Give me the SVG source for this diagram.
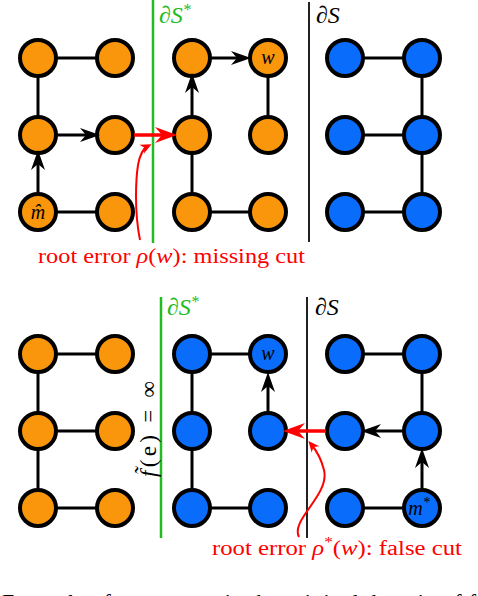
<svg xmlns="http://www.w3.org/2000/svg" width="478" height="596" viewBox="0 0 478 596">
<style>
.o{fill:#F9960B;stroke:#000;stroke-width:4}
.b{fill:#0A6CFA;stroke:#000;stroke-width:4}
.e{stroke:#000;stroke-width:3;fill:none}
.a{stroke:#000;stroke-width:3;fill:none;marker-end:url(#ah)}
.r{stroke:#F00;stroke-width:3.5;fill:none;marker-end:url(#rh)}
.rc{stroke:#F00;stroke-width:2;fill:none;marker-end:url(#sh)}
.cut{stroke:#22BB22;stroke-width:2.5}
.cutk{stroke:#222;stroke-width:2}
.lbl{font-family:"Liberation Serif",serif;font-style:italic;font-size:20px;text-anchor:middle}
.part{font-family:"Liberation Serif",serif;font-style:italic;font-size:24px}
.err{font-family:"Liberation Serif",serif;font-size:20px;fill:#F00}
</style>
<defs>
<marker id="ah" viewBox="-21 -8 22 16" refX="-10" refY="0" markerWidth="22" markerHeight="16" markerUnits="userSpaceOnUse" orient="auto">
<path d="M0,0 L-20,-7 L-14,0 L-20,7 Z" fill="#000"/>
</marker>
<marker id="rh" viewBox="-23 -9 24 18" refX="-10" refY="0" markerWidth="24" markerHeight="18" markerUnits="userSpaceOnUse" orient="auto">
<path d="M0,0 L-22,-8 L-15,0 L-22,8 Z" fill="#F00"/>
</marker>
<marker id="sh" viewBox="-12 -6 13 12" refX="-4" refY="0" markerWidth="13" markerHeight="12" markerUnits="userSpaceOnUse" orient="auto">
<path d="M0,0 L-11,-5 L-8,0 L-11,5 Z" fill="#F00"/>
</marker>
</defs>

<g id="cuts">
<line class="cut" x1="153" y1="0" x2="153" y2="243"/>
<line class="cutk" x1="309" y1="2" x2="309" y2="242"/>
<text class="part" x="159" y="23" fill="#22BB22">∂S<tspan font-size="16" dy="-8">*</tspan></text>
<text class="part" x="316" y="23" fill="#000">∂S</text>
<line class="cut" x1="161" y1="297" x2="161" y2="538"/>
<line class="cutk" x1="307" y1="297" x2="307" y2="538"/>
<text class="part" x="167" y="315" fill="#22BB22">∂S<tspan font-size="16" dy="-8">*</tspan></text>
<text class="part" x="315" y="315" fill="#000">∂S</text>
</g>

<g id="top-nodes">
<g id="t00"><circle class="o" cx="38" cy="58" r="18"/></g>
<g id="t10"><circle class="o" cx="115" cy="58" r="18"/></g>
<g id="t20"><circle class="o" cx="192" cy="58" r="18"/></g>
<g id="t30"><circle class="o" cx="268" cy="58" r="18"/><text class="lbl" x="268" y="64">w</text></g>
<g id="t40"><circle class="b" cx="345" cy="58" r="18"/></g>
<g id="t50"><circle class="b" cx="422" cy="58" r="18"/></g>
<g id="t01"><circle class="o" cx="38" cy="135" r="18"/></g>
<g id="t11"><circle class="o" cx="115" cy="135" r="18"/></g>
<g id="t21"><circle class="o" cx="192" cy="135" r="18"/></g>
<g id="t31"><circle class="o" cx="268" cy="135" r="18"/></g>
<g id="t41"><circle class="b" cx="345" cy="135" r="18"/></g>
<g id="t51"><circle class="b" cx="422" cy="135" r="18"/></g>
<g id="t02"><circle class="o" cx="38" cy="212" r="18"/><text class="lbl" x="38" y="219">m̂</text></g>
<g id="t12"><circle class="o" cx="115" cy="212" r="18"/></g>
<g id="t22"><circle class="o" cx="192" cy="212" r="18"/></g>
<g id="t32"><circle class="o" cx="268" cy="212" r="18"/></g>
<g id="t42"><circle class="b" cx="345" cy="212" r="18"/></g>
<g id="t52"><circle class="b" cx="422" cy="212" r="18"/></g>
</g>

<g id="bottom-nodes">
<g id="b00"><circle class="o" cx="38" cy="354" r="18"/></g>
<g id="b10"><circle class="o" cx="115" cy="354" r="18"/></g>
<g id="b20"><circle class="b" cx="192" cy="354" r="18"/></g>
<g id="b30"><circle class="b" cx="268" cy="354" r="18"/><text class="lbl" x="268" y="360">w</text></g>
<g id="b40"><circle class="b" cx="345" cy="354" r="18"/></g>
<g id="b50"><circle class="b" cx="422" cy="354" r="18"/></g>
<g id="b01"><circle class="o" cx="38" cy="431" r="18"/></g>
<g id="b11"><circle class="o" cx="115" cy="431" r="18"/></g>
<g id="b21"><circle class="b" cx="192" cy="431" r="18"/></g>
<g id="b31"><circle class="b" cx="268" cy="431" r="18"/></g>
<g id="b41"><circle class="b" cx="345" cy="431" r="18"/></g>
<g id="b51"><circle class="b" cx="422" cy="431" r="18"/></g>
<g id="b02"><circle class="o" cx="38" cy="508" r="18"/></g>
<g id="b12"><circle class="o" cx="115" cy="508" r="18"/></g>
<g id="b22"><circle class="b" cx="192" cy="508" r="18"/></g>
<g id="b32"><circle class="b" cx="268" cy="508" r="18"/></g>
<g id="b42"><circle class="b" cx="345" cy="508" r="18"/></g>
<g id="b52"><circle class="b" cx="422" cy="508" r="18"/><text class="lbl" x="419" y="515">m<tspan font-size="14" dy="-8">*</tspan></text></g>
</g>

<g id="connectors">
<line class="e" x1="57" y1="58" x2="96" y2="58"/>
<line class="e" x1="38" y1="77" x2="38" y2="116"/>
<line class="e" x1="57" y1="212" x2="96" y2="212"/>
<line class="e" x1="268" y1="77" x2="268" y2="116"/>
<line class="e" x1="192" y1="154" x2="192" y2="193"/>
<line class="e" x1="211" y1="212" x2="249" y2="212"/>
<line class="e" x1="364" y1="58" x2="403" y2="58"/>
<line class="e" x1="422" y1="77" x2="422" y2="116"/>
<line class="e" x1="364" y1="135" x2="403" y2="135"/>
<line class="e" x1="422" y1="154" x2="422" y2="193"/>
<line class="e" x1="364" y1="212" x2="403" y2="212"/>
<line class="a" x1="57" y1="135" x2="90" y2="135"/>
<line class="a" x1="38" y1="193" x2="38" y2="160"/>
<line class="a" x1="192" y1="116" x2="192" y2="83"/>
<line class="a" x1="211" y1="58" x2="241" y2="58"/>
<line class="r" x1="134" y1="135" x2="167" y2="135"/>
<path class="rc" d="M140,240 C134,210 136,178 138,165 C140,154 144,148 148,146"/>
<line class="e" x1="57" y1="354" x2="96" y2="354"/>
<line class="e" x1="38" y1="373" x2="38" y2="412"/>
<line class="e" x1="57" y1="431" x2="96" y2="431"/>
<line class="e" x1="38" y1="450" x2="38" y2="489"/>
<line class="e" x1="57" y1="508" x2="96" y2="508"/>
<line class="e" x1="211" y1="354" x2="249" y2="354"/>
<line class="e" x1="192" y1="373" x2="192" y2="412"/>
<line class="e" x1="192" y1="450" x2="192" y2="489"/>
<line class="e" x1="211" y1="508" x2="249" y2="508"/>
<line class="e" x1="364" y1="354" x2="403" y2="354"/>
<line class="e" x1="422" y1="373" x2="422" y2="412"/>
<line class="e" x1="364" y1="508" x2="403" y2="508"/>
<line class="a" x1="268" y1="412" x2="268" y2="382"/>
<line class="a" x1="422" y1="489" x2="422" y2="458"/>
<line class="a" x1="403" y1="431" x2="371" y2="431"/>
<line class="r" x1="326" y1="431" x2="293" y2="431"/>
<path class="rc" d="M299,537 C290,520 330,495 324,470 C321,458 316,450 311,444"/>
</g>

<g id="labels">
<text class="err" x="38" y="263" textLength="267" lengthAdjust="spacingAndGlyphs">root error <tspan font-style="italic">ρ</tspan>(<tspan font-style="italic">w</tspan>): missing cut</text>
<text class="err" x="212" y="555" textLength="250" lengthAdjust="spacingAndGlyphs">root error <tspan font-style="italic">ρ</tspan><tspan font-size="14" dy="-8">*</tspan><tspan dy="8">(</tspan><tspan font-style="italic">w</tspan>): false cut</text>
<text font-family="Liberation Serif, serif" font-size="23" x="0" y="0" transform="translate(156,429) rotate(-90)" text-anchor="middle" textLength="96" lengthAdjust="spacing"><tspan font-style="italic">f̃</tspan>(e) = ∞</text>
<text font-family="Liberation Serif, serif" font-size="22" x="2" y="609" textLength="474" lengthAdjust="spacing">Example of root errors in the original domain of f</text>
</g>
</svg>
